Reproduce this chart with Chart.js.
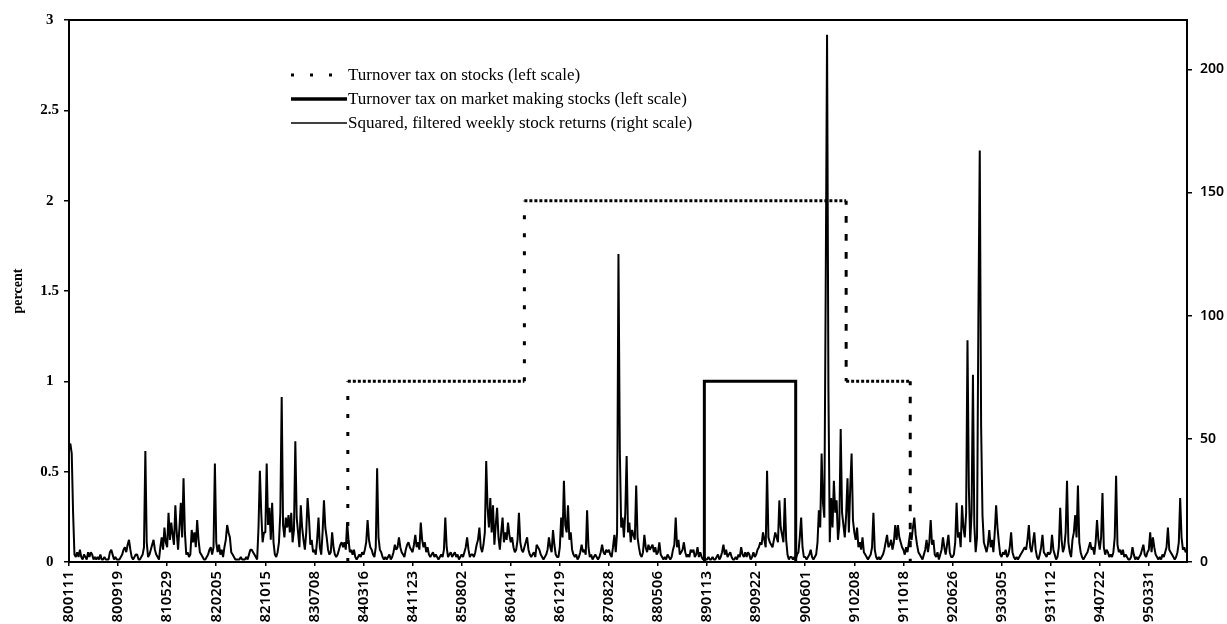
<!DOCTYPE html>
<html>
<head>
<meta charset="utf-8">
<script src="https://cdn.jsdelivr.net/npm/chart.js@4.4.1/dist/chart.umd.min.js"></script>
<style>
  html, body { margin: 0; padding: 0; background: #fff; }
  #wrap { width: 1227px; height: 624px; }
</style>
</head>
<body>
<div id="wrap"><canvas id="myChart"></canvas></div>
<script>
const ctx = document.getElementById("myChart");

const SERIF = '"Liberation Serif", "Times New Roman", serif';
const SANS = '"Noto Sans", "DejaVu Sans", sans-serif';

// x axis is the week number counted from 800111, a label every 36 weeks
const tickWeeks = [0, 36, 72, 108, 144, 180, 216, 252, 288, 324, 360, 396,
    432, 468, 504, 540, 576, 612, 648, 684, 720, 756, 792];
const tickLabels = ['800111', '800919', '810529', '820205', '821015', '830708',
    '840316', '841123', '850802', '860411', '861219', '870828', '880506',
    '890113', '890922', '900601', '910208', '911018', '920626', '930305',
    '931112', '940722', '950331'];
const lastWeek = 820;

const leftTicks = [0, 0.5, 1, 1.5, 2, 2.5, 3];
const rightTicks = [0, 50, 100, 150, 200];

// turnover tax on stocks (percent), corners of the step line
const taxStockWeeks = [204.5, 204.5, 334, 334, 570, 570, 617, 617];
const taxStockRates = [0, 1, 1, 2, 2, 1, 1, 0];

// turnover tax on market making stocks (percent)
const taxMarketWeeks = [466, 466, 533, 533];
const taxMarketRates = [0, 1, 1, 0];

// squared, filtered weekly stock returns (right scale), weeks 0..820, 36 per row
const squaredReturns = [
    47,48,44,20,3,2,4,2,5,2,1,3,2,1,4,2,4,3,1,2,1,2,1,3,1,1,2,1,1,1,4,5,3,1,2,1,
    1,1,2,3,5,6,4,7,9,5,2,1,2,3,3,1,1,2,3,6,45,8,2,3,5,7,9,5,3,2,1,6,10,5,14,8,
    6,20,9,16,11,7,23,12,5,14,24,10,34,12,3,4,2,3,13,8,12,6,17,9,4,3,2,1,1,2,3,5,6,3,6,40,
    8,4,7,3,5,2,6,9,15,12,10,4,3,2,1,1,1,1,2,1,1,1,2,1,3,5,5,4,3,2,1,14,37,20,8,12,
    12,40,15,22,9,24,8,3,2,4,8,20,67,15,10,18,14,19,12,20,8,13,49,18,12,6,23,14,9,5,12,26,18,7,9,4,
    5,3,9,18,6,3,12,25,14,10,5,3,4,12,6,3,2,3,5,7,8,6,8,5,16,9,4,5,3,5,2,1,2,3,2,4,
    3,5,8,17,9,6,5,3,2,6,38,10,5,4,2,1,2,1,2,3,1,2,4,7,5,6,10,6,4,3,2,5,7,8,6,5,
    4,7,11,6,8,5,16,9,6,8,4,6,3,2,3,4,2,3,2,1,2,3,2,5,18,6,2,3,4,2,3,4,2,3,1,2,
    3,2,4,6,10,5,2,3,3,2,4,7,9,14,6,4,7,12,41,22,14,26,12,23,7,15,22,10,5,12,18,8,12,9,16,11,
    8,10,6,4,5,9,20,8,5,4,6,8,10,5,3,2,3,4,2,7,6,5,3,2,1,2,3,5,10,6,4,13,7,3,2,2,
    6,18,10,33,15,12,23,9,12,5,3,2,3,1,2,4,7,4,5,3,21,6,2,3,1,2,3,2,1,2,4,7,4,3,5,4,
    5,3,2,6,11,4,12,125,45,14,18,10,20,43,12,16,8,13,11,9,31,10,6,3,2,4,11,6,4,7,5,6,7,4,6,3,
    4,8,3,2,1,2,1,3,2,1,2,5,7,18,6,9,3,4,5,8,4,2,3,2,5,4,5,2,3,6,2,4,2,1,2,1,
    1,2,1,1,2,1,1,2,3,1,2,4,7,3,5,2,3,4,2,1,1,2,1,3,2,6,3,2,4,2,4,3,1,2,4,2,
    3,5,6,8,7,12,9,6,37,10,8,7,6,9,12,10,8,25,14,11,8,26,9,3,1,2,2,1,2,1,3,4,10,18,6,2,
    2,1,2,3,5,2,1,2,3,8,21,14,44,24,18,110,214,70,8,26,14,33,20,25,9,15,54,20,15,10,19,34,12,30,44,17,
    12,9,14,6,8,5,10,4,3,2,1,2,3,6,20,5,2,1,2,1,2,3,5,8,11,6,7,9,5,8,15,9,15,10,8,6,
    5,3,6,4,8,12,9,14,18,11,7,4,3,2,1,3,5,9,4,8,17,7,9,3,2,4,1,3,5,10,6,3,7,11,4,2,
    2,3,8,24,10,12,6,23,14,10,20,90,30,8,20,76,15,4,10,100,167,55,19,8,6,4,7,13,6,9,4,12,23,14,8,3,
    2,4,3,5,2,3,6,12,4,2,1,2,1,2,3,4,5,6,5,9,15,6,4,8,12,5,2,1,3,6,11,4,3,2,4,3,
    4,11,5,3,1,2,6,22,9,4,6,12,33,8,4,2,9,12,19,10,31,8,4,2,1,2,3,4,6,8,5,6,3,8,17,9,
    5,10,28,6,3,5,4,2,3,2,4,10,35,7,4,5,3,5,2,3,2,1,1,2,6,3,1,2,1,2,3,5,7,3,2,4,
    5,12,4,10,6,3,2,1,2,1,3,2,4,6,14,5,4,3,2,1,2,4,8,26,10,5,6,4,5
];

const toPoints = (xs, ys) => xs.map((x, i) => ({ x: x, y: ys[i] }));

// legend drawn inside the plot, like the original
const insideLegend = {
    id: 'insideLegend',
    afterDraw(chart) {
        const c = chart.ctx;
        const area = chart.chartArea;
        const x0 = area.left + 222;
        const x1 = area.left + 278;
        c.save();
        c.font = '17px ' + SERIF;
        c.textBaseline = 'middle';
        c.fillStyle = '#000';
        c.strokeStyle = '#000';
        chart.data.datasets.forEach((ds, i) => {
            const y = area.top + 55 + i * 24;
            c.setLineDash(ds.legendDash || []);
            c.lineWidth = ds.legendWidth;
            c.beginPath();
            c.moveTo(x0, y);
            c.lineTo(x1, y);
            c.stroke();
            c.fillText(ds.label, x1 + 1, y + 1);
        });
        c.restore();
    }
};

// box round the plot area
const frame = {
    id: 'frame',
    afterDatasetsDraw(chart) {
        const c = chart.ctx;
        const a = chart.chartArea;
        c.save();
        c.strokeStyle = '#000';
        c.lineWidth = 2;
        c.strokeRect(a.left, a.top, a.right - a.left, a.bottom - a.top);
        c.restore();
    }
};

const data = {
    datasets: [
        {
            label: 'Turnover tax on stocks (left scale)',
            data: toPoints(taxStockWeeks, taxStockRates),
            yAxisID: 'y',
            borderColor: '#000',
            borderWidth: 3,
            borderCapStyle: 'butt',
            legendDash: [3, 16],
            legendWidth: 3,
            segment: {
                borderDash: c => c.p0.parsed.x === c.p1.parsed.x ? [4, 14] : [3, 2]
            }
        },
        {
            label: 'Turnover tax on market making stocks (left scale)',
            data: toPoints(taxMarketWeeks, taxMarketRates),
            yAxisID: 'y',
            borderColor: '#000',
            borderWidth: 3,
            legendWidth: 3.5
        },
        {
            label: 'Squared, filtered weekly stock returns (right scale)',
            data: squaredReturns.map((v, i) => ({ x: i, y: v })),
            yAxisID: 'y1',
            borderColor: '#000',
            borderWidth: 2,
            borderJoinStyle: 'bevel',
            legendWidth: 1.5
        }
    ]
};

const config = {
    type: 'line',
    data: data,
    options: {
        responsive: true,
        maintainAspectRatio: false,
        animation: false,
        layout: { padding: { top: 20, left: 0, right: 0, bottom: 0 } },
        elements: { point: { radius: 0 }, line: { tension: 0 } },
        scales: {
            x: {
                type: 'linear',
                min: 0,
                max: lastWeek,
                afterBuildTicks: s => { s.ticks = tickWeeks.map(v => ({ value: v })); },
                afterFit: s => { s.height = 62; },
                ticks: {
                    autoSkip: false,
                    minRotation: 90,
                    maxRotation: 90,
                    padding: 5,
                    color: '#000',
                    font: { family: SANS, size: 15, weight: '600' },
                    callback: (v, i) => tickLabels[i]
                },
                grid: { drawOnChartArea: false, tickLength: 4, color: '#000', lineWidth: 1.5 },
                border: { color: '#000', width: 2 }
            },
            y: {
                position: 'left',
                min: 0,
                max: 3,
                afterBuildTicks: s => { s.ticks = leftTicks.map(v => ({ value: v })); },
                afterFit: s => { s.width = 69; },
                title: {
                    display: true,
                    text: 'percent',
                    color: '#000',
                    font: { family: SERIF, size: 14, weight: 'bold' },
                    padding: { top: 10, bottom: 0 }
                },
                ticks: {
                    crossAlign: 'center',
                    padding: 5,
                    color: '#000',
                    font: { family: SERIF, size: 15, weight: 'bold' },
                    callback: v => String(v)
                },
                grid: { drawOnChartArea: false, tickLength: 5, color: '#000', lineWidth: 1.5 },
                border: { color: '#000', width: 2 }
            },
            y1: {
                position: 'right',
                min: 0,
                max: 220,
                afterBuildTicks: s => { s.ticks = rightTicks.map(v => ({ value: v })); },
                afterFit: s => { s.width = 40; },
                ticks: {
                    padding: 8,
                    color: '#000',
                    font: { family: SANS, size: 14, weight: '600' }
                },
                grid: { drawOnChartArea: false, tickLength: 5, color: '#000', lineWidth: 1.5 },
                border: { color: '#000', width: 2 }
            }
        },
        plugins: {
            legend: { display: false },
            tooltip: { enabled: false }
        }
    },
    plugins: [insideLegend, frame]
};

new Chart(ctx, config);
</script>
</body>
</html>
